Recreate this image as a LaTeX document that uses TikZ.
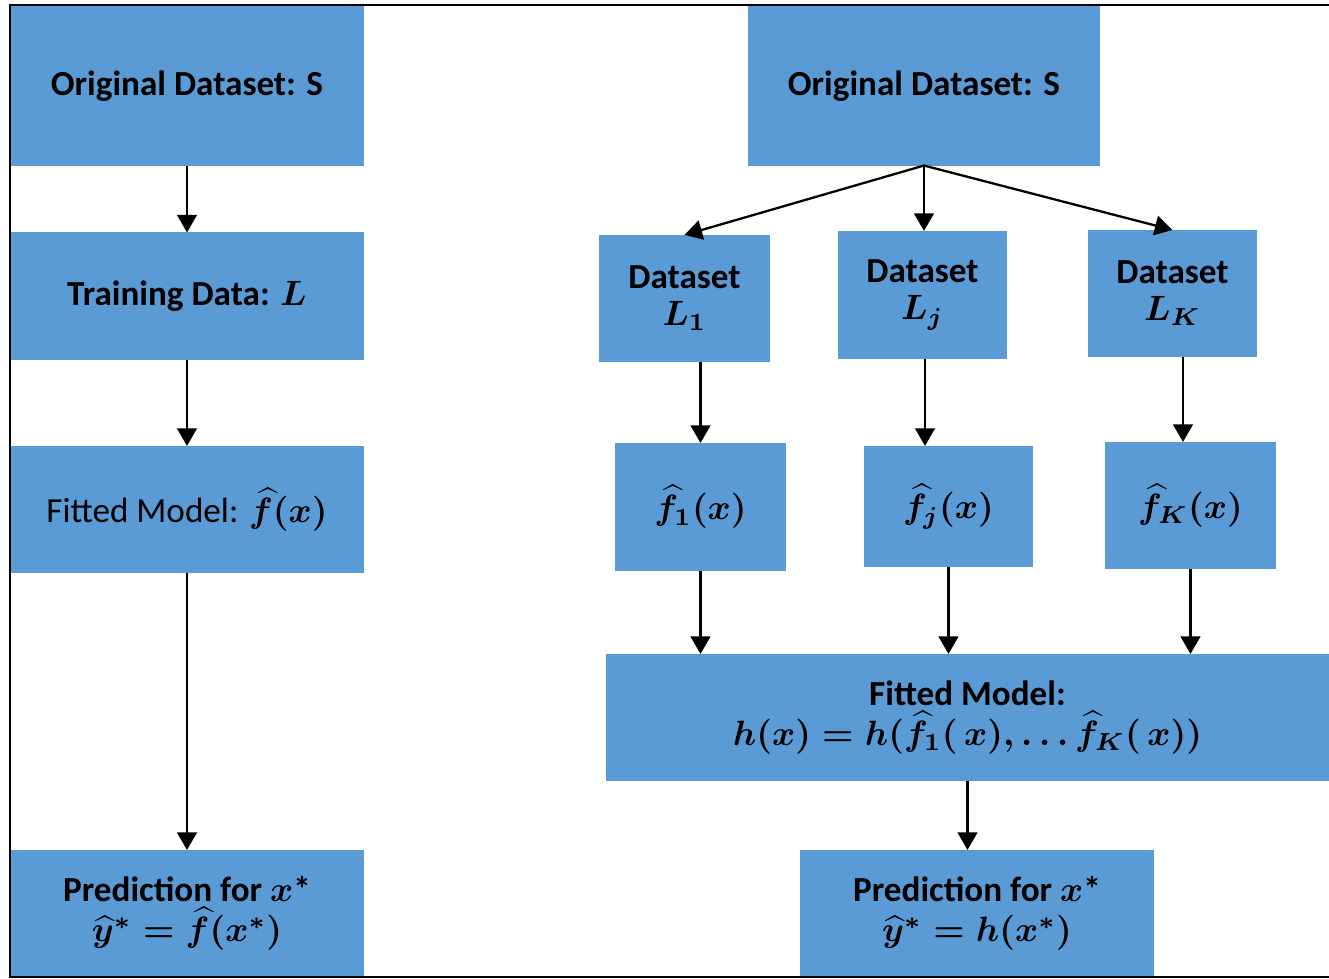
\documentclass[tikz,border=0pt]{standalone}
\usepackage{fontspec}
\usepackage{amsmath}
\setmainfont{Carlito}
\usetikzlibrary{arrows.meta}
\definecolor{boxblue}{HTML}{5B9BD5}

\begin{document}
\begin{tikzpicture}[x=0.01cm, y=-0.01cm,
		blk/.style={fill=boxblue, inner sep=0pt, outer sep=0pt, align=center,
			font=\bfseries\boldmath\fontsize{10}{10.5}\selectfont},
		arr/.style={-{Triangle[length=5pt, width=5.6pt]}, line width=0.65pt}]
		\useasboundingbox (0,0) rectangle (1329,979);
		
		% Single model (left)
		\node[blk, minimum width=3.54cm, minimum height=1.59cm] (S1) at (187,86) {Original Dataset: S};
		\node[blk, minimum width=3.54cm, minimum height=1.27cm] (L) at (187,296) {Training Data: $L$};
		\node[blk, minimum width=3.54cm, minimum height=1.27cm, font=\boldmath\fontsize{10}{10.5}\selectfont] (F) at (187,509.5) {Fitted Model: $\widehat{f}(x)$};
		\node[blk, minimum width=3.54cm, minimum height=1.27cm] (P1) at (187,913.5) {Prediction for $x$*\\[1pt]$\widehat{y}^{*}=\widehat{f}(x^{*})$};
		
		\draw[arr] (S1) -- (L);
		\draw[arr] (L) -- (F);
		\draw[arr] (F) -- (P1);
		
		% Ensemble (right)
		\node[blk, minimum width=3.52cm, minimum height=1.59cm] (S2) at (924,86) {Original Dataset: S};
		
		\node[blk, minimum width=1.71cm, minimum height=1.27cm] (D1) at (684.5,298.5) {Dataset\\$L_1$};
		\node[blk, minimum width=1.69cm, minimum height=1.28cm] (Dj) at (922.5,295) {Dataset\\$L_j$};
		\node[blk, minimum width=1.69cm, minimum height=1.27cm] (DK) at (1172.5,293.5) {Dataset\\$L_K$};
		
		\node[blk, minimum width=1.71cm, minimum height=1.28cm] (f1) at (700.5,507) {$\widehat{f}_1(x)$};
		\node[blk, minimum width=1.69cm, minimum height=1.21cm] (fj) at (948.5,506.5) {$\widehat{f}_j(x)$};
		\node[blk, minimum width=1.71cm, minimum height=1.27cm] (fK) at (1190.5,505.5) {$\widehat{f}_K(x)$};
		
		\node[blk, minimum width=7.23cm, minimum height=1.27cm] (H) at (967.5,717.5) {Fitted Model:\\[1pt]$h(x)=h(\widehat{f}_1(\,x),\ldots\widehat{f}_K(\,x))$};
		\node[blk, minimum width=3.54cm, minimum height=1.27cm] (P2) at (977,913.5) {Prediction for $x$*\\[1pt]$\widehat{y}^{*}=h(x^{*})$};
		
		\draw[arr] (S2.south) -- (D1.north);
		\draw[arr] (S2.south) -- (S2.south |- Dj.north);
		\draw[arr] (S2.south) -- (DK.north);
		
		\draw[arr] (f1.north |- D1.south) -- (f1.north);
		\draw[arr] (Dj.south -| 925,0) -- (fj.north -| 925,0);
		\draw[arr] (DK.south -| 1183,0) -- (fK.north -| 1183,0);
		
		\draw[arr] (f1.south) -- (f1.south |- H.north);
		\draw[arr] (fj.south) -- (fj.south |- H.north);
		\draw[arr] (fK.south) -- (fK.south |- H.north);
		
		\draw[arr] (H.south) -- (H.south |- P2.north);
		
		% Frame
		\draw[line width=0.6pt] (1329,5) -- (10,5) -- (10,977) -- (1329,977);
	\end{tikzpicture}
\end{document}
